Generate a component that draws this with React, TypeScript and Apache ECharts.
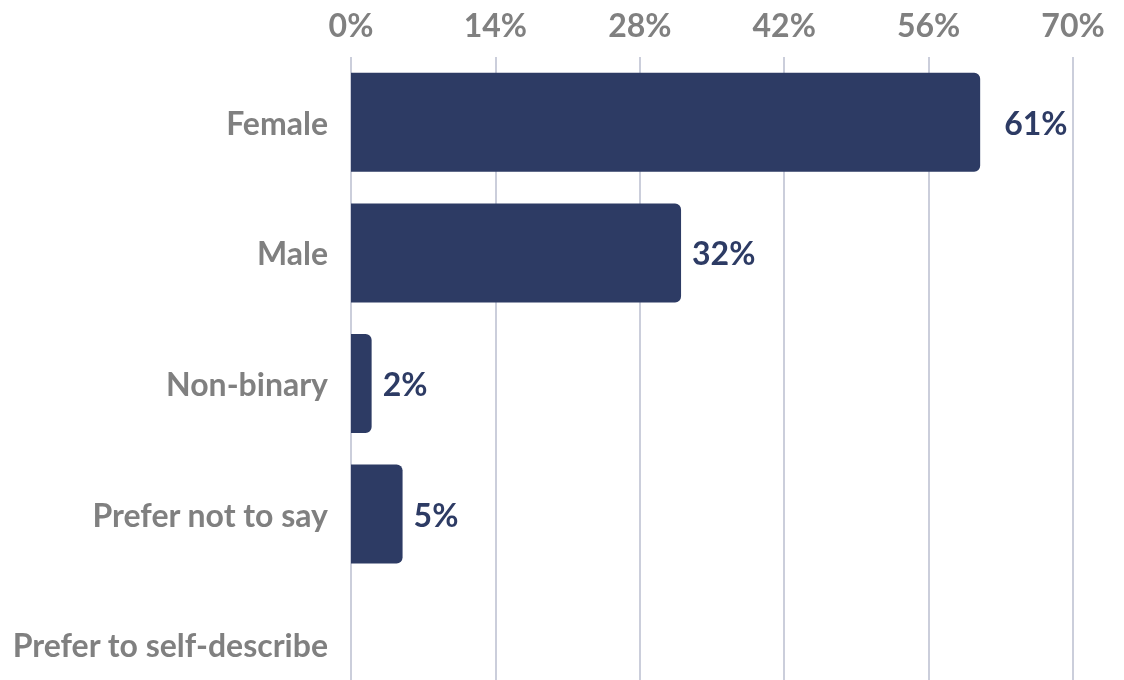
import React, { useEffect, useRef } from "react";
import * as echarts from "echarts";

const categories = ["Female", "Male", "Non-binary", "Prefer not to say", "Prefer to self-describe"];
const values = [61, 32, 2, 5, 0];
const xTicks = [0, 14, 28, 42, 56, 70];

export default function App() {
  const ref = useRef<HTMLDivElement>(null);
  useEffect(() => {
    if (!ref.current) return;
    const chart = echarts.init(ref.current, null, { renderer: "svg" });
    chart.setOption({
      animation: false,
      grid: { left: 351, right: 51, top: 57, bottom: 0, containLabel: false },
      xAxis: {
        type: "value",
        position: "top",
        min: xTicks[0],
        max: xTicks[xTicks.length - 1],
        interval: 14,
        axisLine: { show: false },
        axisTick: { show: false },
        axisLabel: {
          formatter: (v: number) => `${v}%`,
          color: "#808080",
          fontFamily: "Lato",
          fontWeight: 700,
          fontSize: 32,
          margin: 17,
        },
        splitLine: { show: true, lineStyle: { color: "#cbcedb", width: 2 } },
      },
      yAxis: {
        type: "category",
        data: categories,
        inverse: true,
        axisLine: { show: false },
        axisTick: { show: false },
        axisLabel: {
          color: "#808080",
          fontFamily: "Lato",
          fontWeight: 700,
          fontSize: 32,
          margin: 23,
        },
      },
      series: [
        {
          type: "bar",
          data: values.map((v, i) =>
            v === 0
              ? null
              : i === 0
              ? { value: v, label: { distance: 24 } }
              : v
          ),
          barWidth: 99,
          itemStyle: { color: "#2d3b64", borderRadius: [0, 6, 6, 0] },
          label: {
            show: true,
            position: "right",
            distance: 11,
            formatter: (p: any) => `${p.value}%`,
            color: "#2d3b64",
            fontFamily: "Lato",
            fontWeight: 700,
            fontSize: 32,
          },
        },
      ],
    });
    return () => chart.dispose();
  }, []);
  return (
    <div
      style={{ position: "fixed", left: 0, top: 0, width: 1124, height: 680, overflow: "hidden" }}
    >
      <div ref={ref} style={{ width: 1124, height: 710 }} />
    </div>
  );
}
